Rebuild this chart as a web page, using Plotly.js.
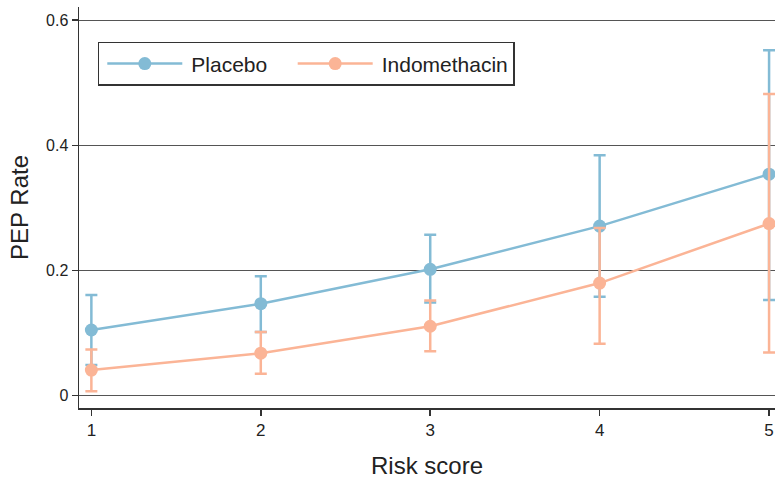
<!DOCTYPE html>
<html>
<head>
<meta charset="utf-8">
<script src="https://cdn.plot.ly/plotly-3.0.1.min.js"></script>
<style>html,body{margin:0;padding:0;background:#fff;}#chart{width:775px;height:483px;}</style>
</head>
<body>
<div id="chart"></div>
<script>
var riskScore = [1, 2, 3, 4, 5];
var seriesNames = ['Placebo', 'Indomethacin'];
var placeboRate = [0.105, 0.147, 0.202, 0.271, 0.354];
var placeboUpper = [0.161, 0.191, 0.257, 0.384, 0.552];
var placeboLower = [0.049, 0.102, 0.149, 0.158, 0.153];
var indoRate = [0.041, 0.068, 0.111, 0.180, 0.275];
var indoUpper = [0.074, 0.102, 0.152, 0.268, 0.482];
var indoLower = [0.007, 0.035, 0.071, 0.083, 0.069];
var tickVals = [0, 0.2, 0.4, 0.6];
var tickText = ['0', '0.2', '0.4', '0.6'];

var blue = '#83bbd5';
var orange = '#fbb496';

function makeTrace(name, y, up, lo, color) {
  return {
    x: riskScore, y: y, name: name, type: 'scatter', mode: 'lines+markers',
    line: {color: color, width: 2.5},
    marker: {color: color, size: 13},
    error_y: {
      type: 'data', symmetric: false,
      array: up.map(function (u, i) { return u - y[i]; }),
      arrayminus: lo.map(function (l, i) { return y[i] - l; }),
      color: color, thickness: 2.5, width: 6
    }
  };
}

var data = [
  makeTrace(seriesNames[0] + '\u00a0\u00a0\u00a0', placeboRate, placeboUpper, placeboLower, blue),
  makeTrace(seriesNames[1], indoRate, indoUpper, indoLower, orange)
];

var layout = {
  width: 775, height: 483,
  margin: {l: 79, r: 0, t: 7, b: 75},
  paper_bgcolor: '#fff', plot_bgcolor: '#fff',
  font: {family: 'Liberation Sans, Arial, sans-serif', color: '#222', size: 16},
  showlegend: true,
  legend: {
    x: 0.027, y: 0.913, xanchor: 'left', yanchor: 'top',
    orientation: 'h', bordercolor: '#333', borderwidth: 1.5,
    bgcolor: '#fff', font: {size: 21, color: '#222'},
    itemwidth: 82
  },
  xaxis: {
    range: [0.927, 5.035],
    tickvals: riskScore, ticktext: riskScore.map(String),
    ticks: 'outside', ticklen: 6, tickwidth: 1.5, tickcolor: '#333',
    showline: true, linecolor: '#333', linewidth: 1.5,
    showgrid: false, zeroline: false,
    tickfont: {size: 17},
    title: {text: 'Risk score', font: {size: 24}, standoff: 18}
  },
  yaxis: {
    range: [-0.0196, 0.621],
    tickvals: tickVals, ticktext: tickText,
    ticks: 'outside', ticklen: 6, tickwidth: 1.5, tickcolor: '#333',
    showline: true, linecolor: '#333', linewidth: 1.5,
    showgrid: true, gridcolor: '#555', gridwidth: 1, zeroline: false,
    tickfont: {size: 16},
    title: {text: 'PEP Rate', font: {size: 24}, standoff: 10}
  }
};

var gd = document.getElementById('chart');
function stretchLegendSymbols() {
  gd.querySelectorAll('g.legendlines path').forEach(function (p) {
    p.setAttribute('d', 'M8,0h75');
  });
  gd.querySelectorAll('g.legendpoints path').forEach(function (p) {
    p.setAttribute('transform', 'translate(45.5,0)');
  });
}

Plotly.newPlot(gd, data, layout, {displayModeBar: false, staticPlot: true}).then(function () {
  stretchLegendSymbols();
  gd.on('plotly_afterplot', stretchLegendSymbols);
  setTimeout(stretchLegendSymbols, 0);
  setTimeout(stretchLegendSymbols, 50);
});
</script>
</body>
</html>
